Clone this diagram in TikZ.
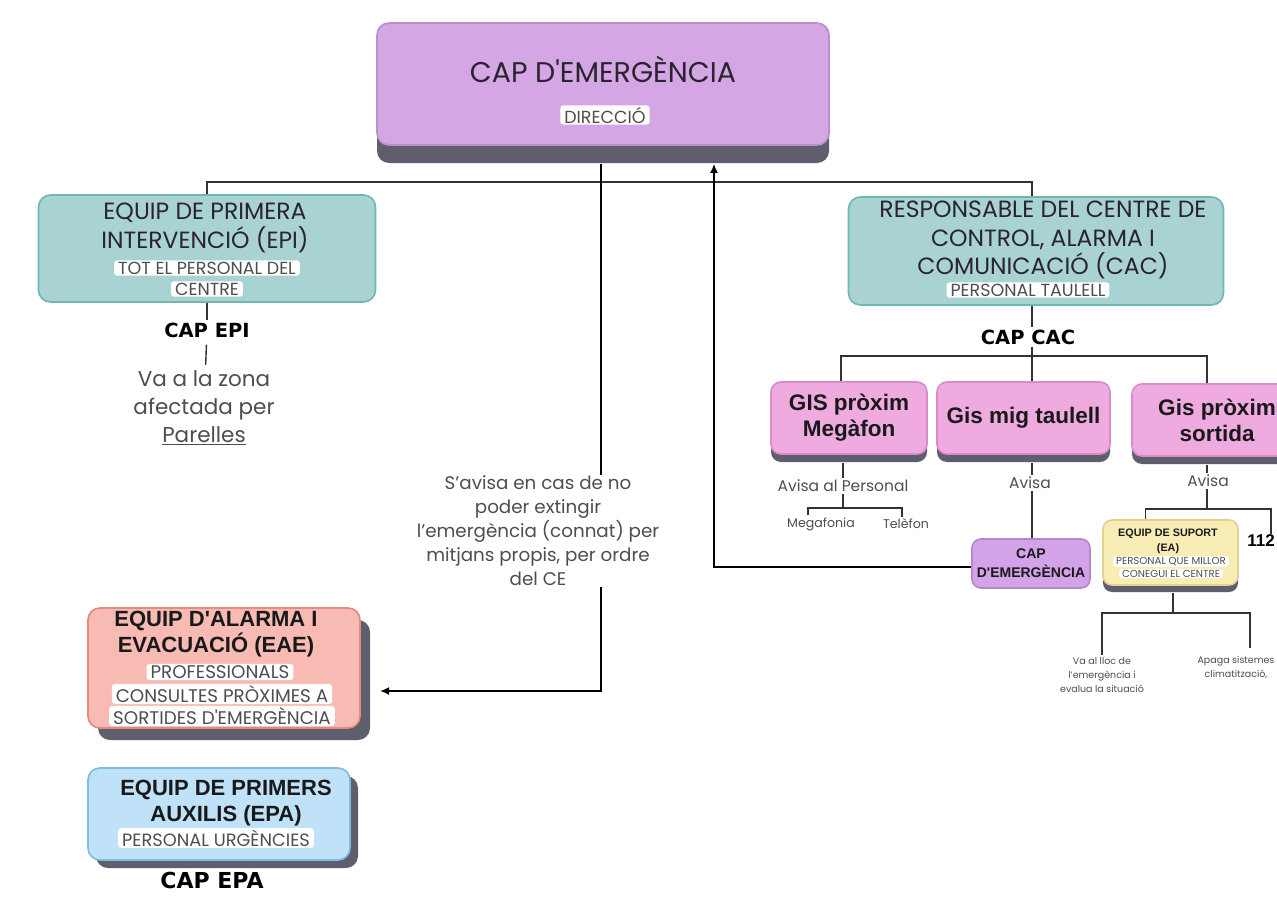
\documentclass[tikz,border=0pt]{standalone}
\usepackage{fontspec}
\setmainfont{Poppins}
\newfontfamily\arialbold{Liberation Sans}
\newfontfamily\blackfont{DejaVu Sans}
\usetikzlibrary{positioning, shadows, arrows.meta}

\definecolor{dirFill}{HTML}{D5A6E4}
\definecolor{dirLine}{HTML}{BC8FCC}
\definecolor{shade}{HTML}{5F5E6C}
\definecolor{tealFill}{HTML}{A9D3D3}
\definecolor{tealLine}{HTML}{72B6B4}
\definecolor{pinkFill}{HTML}{EFAAE0}
\definecolor{pinkLine}{HTML}{D98CCB}
\definecolor{lilacFill}{HTML}{D4A2E8}
\definecolor{lilacLine}{HTML}{B487CB}
\definecolor{sandFill}{HTML}{F8EDB4}
\definecolor{sandLine}{HTML}{E3D08C}
\definecolor{roseFill}{HTML}{F7BBB4}
\definecolor{roseLine}{HTML}{E58A80}
\definecolor{skyFill}{HTML}{BFE2F8}
\definecolor{skyLine}{HTML}{7FBBE2}
\definecolor{ink}{HTML}{2A2330}
\definecolor{soft}{HTML}{4E4E4E}

\tikzstyle{box} = [rectangle, rounded corners=12pt, line width=1.6pt, inner sep=0pt, align=center]
\tikzstyle{tag} = [rectangle, rounded corners=3pt, fill=white, text=soft, inner xsep=4pt, inner ysep=1.5pt,
    font=\fontsize{17.5}{19}\selectfont]
\tikzstyle{Link} = [line width=1.4pt, draw=black!80]
\tikzstyle{Arrow} = [line width=2.4pt, -{Latex[length=9pt, width=8pt]}]

\begin{document}
\begin{tikzpicture}[
    x=1pt, y=-1pt,
    lift/.style n args={2}{drop shadow={shadow xshift=#1, shadow yshift=#2, fill=shade, opacity=1}},
    bigTitle/.style={text=ink, font=\fontsize{28.5}{32}\selectfont},
    heading/.style={text=ink, align=center, font=\fontsize{23.5}{28.5}\selectfont},
    boldHead/.style={text=black!90, align=center, font=\arialbold\bfseries\fontsize{22}{26}\selectfont},
    heavyLabel/.style={text=black, inner sep=2pt, font=\blackfont\bfseries\fontsize{#1}{#1}\selectfont},
    gisText/.style={text=black!90, font=\arialbold\bfseries\fontsize{22.5}{26}\selectfont},
    note/.style n args={2}{text=soft, align=center, inner sep=2pt, font=\fontsize{#1}{#2}\selectfont}
]
\clip (0,0) rectangle (1277,899);
\fill[white] (0,0) rectangle (1277,899);

% direccio
\node[box, draw=dirLine, fill=dirFill, minimum width=452pt, minimum height=122pt, lift={0pt}{-18pt}] (cap) at (603,84) {};
\node[bigTitle] (capTitle) at (603,69) {CAP D\textquotesingle EMERGÈNCIA};
\node[tag] (capTag) at (605,115) {DIRECCIÓ};

% equip de primera intervencio
\node[box, draw=tealLine, fill=tealFill, minimum width=337pt, minimum height=107pt] (epi) at (207,248.5) {};
\node[heading] (epiTitle) at (205,228) {EQUIP DE PRIMERA\\INTERVENCIÓ (EPI)};
\node[tag] (epiTagA) at (207,268) {TOT EL PERSONAL DEL};
\node[tag] (epiTagB) at (207,289) {CENTRE};
\node[heavyLabel=19.5] (capEpi) at (207,330) {CAP EPI};
\node[note={21.5}{28}] (epiNote) at (204,408) {Va a la zona\\afectada per\\\underline{Parelles}};

% centre de control
\node[box, draw=tealLine, fill=tealFill, minimum width=375pt, minimum height=108pt] (cac) at (1036,251) {};
\node[heading] (cacTitle) at (1043,240) {RESPONSABLE DEL CENTRE DE\\CONTROL, ALARMA I\\COMUNICACIÓ (CAC)};
\node[tag] (cacTag) at (1028,290) {PERSONAL TAULELL};
\node[heavyLabel=19.5] (capCac) at (1028,337) {CAP CAC};

\coordinate (split) at (603,182);
\draw[Link] (epi.north) |- (split) -| ([xshift=-4pt]cac.north);
\draw[Link] (epi) -- (capEpi);
\draw[Link, shorten <=5pt, shorten >=4pt] (capEpi) -- (epiNote);
\draw[Link] (cac.south -| 1032,0) -- (capCac.north -| 1032,0);

% gis
\node[box, rounded corners=10pt, draw=pinkLine, fill=pinkFill, minimum width=156pt, minimum height=72pt, lift={0pt}{-8pt}, gisText] (gisA) at (849,418) {GIS pròxim\\Megàfon};
\node[box, rounded corners=10pt, draw=pinkLine, fill=pinkFill, minimum width=173pt, minimum height=72pt, lift={0pt}{-8pt}, gisText] (gisB) at (1023.5,418) {Gis mig taulell};
\node[box, rounded corners=10pt, draw=pinkLine, fill=pinkFill, minimum width=170pt, minimum height=72pt, lift={0pt}{-8pt}, gisText] (gisC) at (1217,420) {Gis pròxim\\sortida};

\coordinate (gisSplit) at (1032,356);
\draw[Link] (capCac.south -| gisSplit) -- (gisSplit);
\draw[Link] ([xshift=-8pt]gisA.north) |- (gisSplit) -| ([xshift=-10pt]gisC.north);
\draw[Link] (gisSplit) -- ([xshift=8.5pt]gisB.north);

% avisos
\node[note={15.5}{18}] (avisaA) at (843,486) {Avisa al Personal};
\node[note={12.6}{15}] (mega) at (821,524) {Megafonia};
\node[note={12.6}{15}] (tel) at (906,524) {Telèfon};
\coordinate (megaSplit) at (843,508);
\draw[Link] ([xshift=-6pt,yshift=-8pt]gisA.south) -- (avisaA);
\draw[Link, line width=1.1pt] (avisaA) -- (megaSplit);
\draw[Link, line width=1.1pt] ([xshift=-13pt]mega.north) |- (megaSplit) -| ([xshift=-4pt]tel.north);

\node[note={15.5}{18}] (avisaB) at (1030,483) {Avisa};
\node[box, rounded corners=9pt, draw=lilacLine, fill=lilacFill, minimum width=118pt, minimum height=49pt,
    text=black!90, font=\arialbold\bfseries\fontsize{14}{19}\selectfont] (capE) at (1031,563.5) {CAP\\D'EMERGÈNCIA};
\draw[Link] ([xshift=8.5pt,yshift=-8pt]gisB.south) -- (avisaB.north -| gisSplit);
\draw[Link] (avisaB.south -| gisSplit) -- (capE.north -| gisSplit);

\node[note={15.5}{18}] (avisaC) at (1208,481) {Avisa};
\coordinate (eaSplit) at (1207,509);
\draw[Link] ([xshift=-10pt,yshift=-8pt]gisC.south) -- (avisaC.north -| eaSplit);
\draw[Link] (avisaC.south -| eaSplit) -- (eaSplit);

% equip de suport
\node[box, rounded corners=9pt, draw=sandLine, fill=sandFill, minimum width=135pt, minimum height=65pt, lift={0pt}{-7pt}] (ea) at (1170.5,552.5) {};
\node[text=black!90, align=center, inner sep=1pt, font=\arialbold\bfseries\fontsize{10.8}{15}\selectfont] (eaTitle) at (1168,541) {EQUIP DE SUPORT\\(EA)};
\node[tag, inner xsep=3pt, inner ysep=1pt, font=\fontsize{10.2}{11}\selectfont] (eaTagA) at (1171,561.5) {PERSONAL QUE MILLOR};
\node[tag, inner xsep=3pt, inner ysep=1pt, font=\fontsize{10.2}{11}\selectfont] (eaTagB) at (1171,573.5) {CONEGUI EL CENTRE};
\node[text=black, inner sep=1pt, font=\arialbold\bfseries\fontsize{17}{17}\selectfont] (num) at (1261,541) {112};
\draw[Link] ([xshift=-25pt]ea.north) |- (eaSplit) -| ([xshift=10pt]num.north);

\coordinate (actSplit) at (1173,613);
\coordinate (actEnd) at (1250,648);
\node[note={9.5}{14}] (actA) at (1102,675) {Va al lloc de\\l'emergència i\\evalua la situació};
\node[note={9.5}{14}] (actB) at (1236,668) {Apaga sistemes\\climatització,};
\draw[Link, line width=1.1pt] ([xshift=2.5pt,yshift=-7pt]ea.south) -- (actSplit);
\draw[Link, line width=1.1pt] (actA.north) |- (actSplit) -| (actEnd);

% fletxes
\coordinate (eaeIn) at (380,691);
\draw[Arrow] ([xshift=-2pt,yshift=-18pt]cap.south) |- (eaeIn);
\draw[Arrow] ([yshift=-3.5pt]capE.west) -| ([xshift=111pt,yshift=-18pt]cap.south);
\node[note={18.3}{24}, fill=white, inner sep=1pt] (ceNote) at (538,531) {S'avisa en cas de no\\poder extingir\\l'emergència (connat) per\\mitjans propis, per ordre\\del CE};

% alarma i evacuacio
\node[box, draw=roseLine, fill=roseFill, minimum width=272pt, minimum height=120pt, lift={10pt}{-12pt}] (eae) at (224,668) {};
\node[boldHead] (eaeTitle) at (216,634.5) {EQUIP D'ALARMA I\\EVACUACIÓ (EAE)};
\node[tag, font=\fontsize{18.3}{20}\selectfont] (eaeTagA) at (220,672) {PROFESSIONALS};
\node[tag, font=\fontsize{18.3}{20}\selectfont] (eaeTagB) at (222,694) {CONSULTES PRÒXIMES A};
\node[tag, font=\fontsize{18.3}{20}\selectfont] (eaeTagC) at (222,716) {SORTIDES D\textquotesingle EMERGÈNCIA};

% primers auxilis
\node[box, draw=skyLine, fill=skyFill, minimum width=262pt, minimum height=92pt, lift={8pt}{-8pt}] (epa) at (219,814) {};
\node[boldHead] (epaTitle) at (226,803) {EQUIP DE PRIMERS\\AUXILIS (EPA)};
\node[tag, font=\fontsize{17.8}{20}\selectfont] (epaTag) at (216,838) {PERSONAL URGÈNCIES};
\node[heavyLabel=22] (capEpa) at (212,880) {CAP EPA};

\end{tikzpicture}
\end{document}
